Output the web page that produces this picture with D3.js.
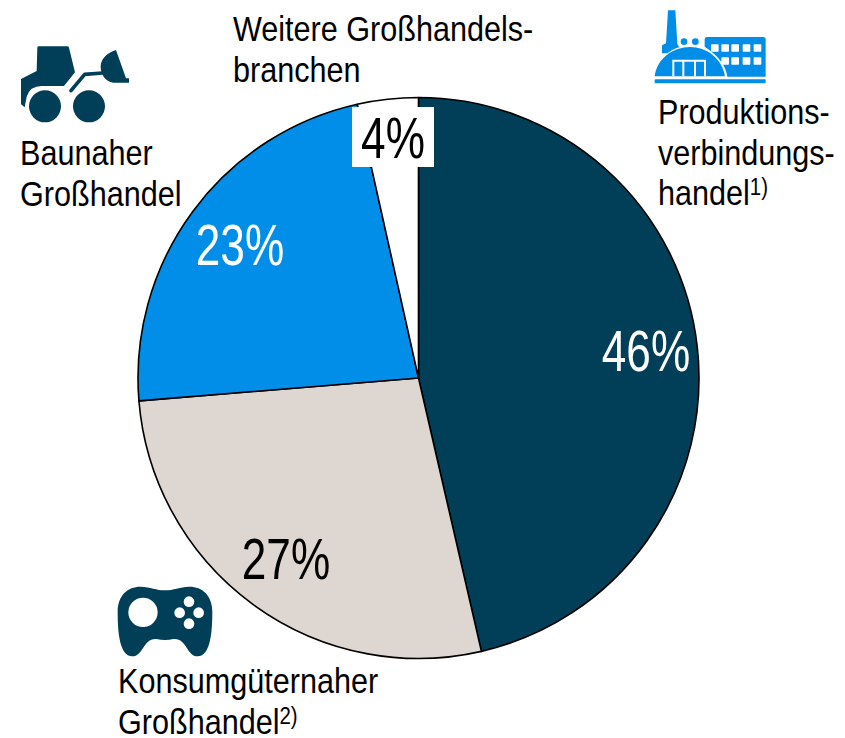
<!DOCTYPE html>
<html><head><meta charset="utf-8">
<script src="https://cdn.jsdelivr.net/npm/d3@7/dist/d3.min.js"></script>
<style>html,body{margin:0;background:#fff}svg{display:block}text{font-family:"Liberation Sans",Arial,sans-serif}</style>
</head><body><svg id="c" width="845" height="738"></svg>
<script>
const categories=["Produktionsverbindungshandel","Konsumgüternaher Großhandel","Baunaher Großhandel","Weitere Großhandelsbranchen"];
const values=[46.4,27.3,22.8,3.5];
const colors=["#003f57","#ded6d0","#008ee8","#ffffff"];
const labelColors=["#fff","#000","#fff","#000"];
const labelPos=[[646,351],[286,559],[240,245],[393,138]];
const textBlocks=[
 {x:658,y:124,lines:["Produktions-","verbindungs-",["handel","1)"]]},
 {x:233,y:41,lines:["Weitere Großhandels-","branchen"]},
 {x:20,y:165,lines:["Baunaher","Großhandel"]},
 {x:118,y:693,lines:["Konsumgüternaher",["Großhandel","2)"]]}
];
const svg=d3.select("#c");
const cx=418.5,cy=378,R=280.5;
const pie=d3.pie().sort(null)(values);
const arc=d3.arc().innerRadius(0).outerRadius(R);
const g=svg.append("g").attr("transform",`translate(${cx},${cy})`);
g.selectAll("path").data(pie).join("path").attr("d",arc)
 .attr("fill",(d,i)=>colors[i]).attr("stroke","#000").attr("stroke-width",1.6).attr("stroke-linejoin","round");
svg.append("rect").attr("x",352).attr("y",107).attr("width",82).attr("height",60).attr("fill","#fff");
svg.selectAll("text.v").data(values).join("text").attr("class","v")
 .attr("transform",(d,i)=>`translate(${labelPos[i][0]},${labelPos[i][1]}) scale(0.775,1)`).attr("dy","0.35em")
 .attr("text-anchor","middle").attr("font-size",57)
 .attr("fill",(d,i)=>labelColors[i]).text(d=>Math.round(d)+"%");
const LH=40.5;
textBlocks.forEach(b=>b.lines.forEach((l,i)=>{
 const t=svg.append("text").attr("transform",`translate(${b.x},${b.y+i*LH}) scale(0.85,1)`).attr("font-size",36).attr("fill","#000");
 if(Array.isArray(l)){t.append("tspan").text(l[0]);
  t.append("tspan").attr("font-size",24).attr("dy",-10).text(l[1]);}
 else t.text(l);
}));
// icons
const blue="#008ee8",dark="#003f57";
const f=svg.append("g").attr("transform","translate(640,0) scale(0.3333)").attr("fill",blue);
f.append("path").attr("d","M84 31H106L112 132L128 160H66V136L78 130Z");
f.append("circle").attr("cx",132).attr("cy",125).attr("r",10);
f.append("circle").attr("cx",166).attr("cy",125).attr("r",10);
f.append("path").attr("d","M194 118Q194 111 201 111H369Q377 111 377 118V230H262Q255 180 194 140Z");
f.append("path").attr("d","M44 229C50 175 100 141 150 141C200 141 246 175 255 229Z").attr("stroke","#fff").attr("stroke-width",7).attr("paint-order","stroke");
f.append("rect").attr("x",44).attr("y",238).attr("width",333).attr("height",12).attr("rx",3);
const w=f.append("g").attr("fill","#fff");
[[213,133],[244,133],[274,133],[308,133],[341,133],[244,172],[274,172],[308,172],[341,172]].forEach(p=>w.append("rect").attr("x",p[0]).attr("y",p[1]).attr("width",23).attr("height",22).attr("rx",2));
const d=f.append("g").attr("fill","none").attr("stroke","#fff").attr("stroke-width",6);
d.append("path").attr("d","M100 229V182H195V229M130 182V229M165 182V229");
const b=svg.append("g").attr("transform","translate(10,35) scale(0.3333)").attr("fill",dark);
b.append("path").attr("d","M82 38Q82 34 86 34H172Q176 34 177 38L195 112L162 153H95Q60 153 50 185L44 217L33 208V132L80 108Z");
b.append("circle").attr("cx",105).attr("cy",214).attr("r",48);
b.append("circle").attr("cx",237).attr("cy",214).attr("r",48);
b.append("path").attr("d","M183 167L224 118L278 114").attr("fill","none").attr("stroke",dark).attr("stroke-width",11).attr("stroke-linecap","round").attr("stroke-linejoin","round");
b.append("path").attr("d","M318 45L348 130H357V143H310C285 140 272 115 272 95C272 70 295 52 318 45Z");
const p=svg.append("g").attr("transform","translate(105,575) scale(0.3333)").attr("fill",dark);
p.append("path").attr("d","M38 110C38 60 70 34 108 35C135 36 155 46 180 46C205 46 225 36 252 35C290 34 322 60 322 110C322 165 318 244 278 244C245 244 245 188 205 192C190 196 170 196 155 192C115 188 115 244 82 244C42 244 38 165 38 110Z");
p.append("circle").attr("cx",114).attr("cy",112).attr("r",44).attr("fill","#fff");
[[252,80],[252,146],[224,113],[281,113]].forEach(c=>p.append("circle").attr("cx",c[0]).attr("cy",c[1]).attr("r",16).attr("fill","#fff"));
</script></body></html>
